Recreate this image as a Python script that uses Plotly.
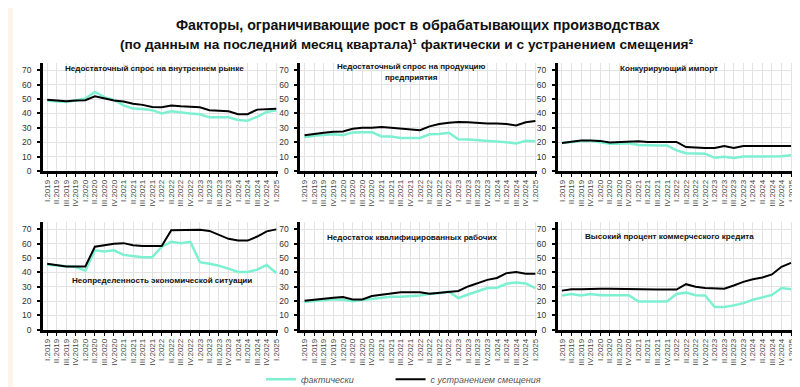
import plotly.graph_objects as go

W, H = 800, 387

quarters = ["I.2019", "II.2019", "III.2019", "IV.2019",
            "I.2020", "II.2020", "III.2020", "IV.2020",
            "I.2021", "II.2021", "III.2021", "IV.2021",
            "I.2022", "II.2022", "III.2022", "IV.2022",
            "I.2023", "II.2023", "III.2023", "IV.2023",
            "I.2024", "II.2024", "III.2024", "IV.2024",
            "I.2025"]

panel_titles = [
    "Недостаточный спрос на внутреннем рынке",
    "Недостаточный спрос на продукцию<br>предприятия",
    "Конкурирующий импорт",
    "Неопределенность экономической ситуации",
    "Недостаток квалифицированных рабочих",
    "Высокий процент коммерческого кредита",
]

# фактически
actual_domestic = [48.9, 48.4, 48.0, 49.0, 50.5, 55.0, 51.4, 49.5, 45.7, 43.4, 43.2, 42.3, 40.0,
                   41.6, 40.7, 40.0, 39.5, 37.3, 37.3, 37.3, 35.5, 35.0, 37.7, 41.1, 42.3]
actual_products = [23.4, 24.5, 25.0, 25.5, 24.8, 26.8, 27.0, 27.0, 24.0, 23.9, 23.0, 23.0, 23.0,
                   25.5, 25.7, 26.6, 22.0, 21.8, 21.4, 21.0, 20.5, 20.0, 19.1, 21.0, 20.7]
actual_import = [19.5, 20.2, 20.9, 20.9, 19.8, 18.9, 18.9, 19.3, 18.0, 17.7, 17.7, 17.7, 14.3,
                 12.3, 12.0, 12.0, 9.1, 9.8, 8.9, 10.0, 10.0, 10.0, 10.0, 10.2, 10.9]
actual_uncertainty = [45.3, 44.9, 44.2, 43.7, 41.2, 55.4, 54.5, 55.4, 52.2, 51.3, 50.6, 50.6, 57.9,
                      61.3, 60.4, 61.3, 47.1, 46.0, 44.6, 42.6, 40.3, 40.3, 41.9, 45.1, 39.6]
actual_workers = [19.4, 20.1, 20.8, 21.2, 21.0, 19.9, 20.8, 21.7, 22.1, 23.0, 23.0, 23.3, 23.9,
                  25.1, 25.5, 26.6, 22.1, 24.6, 27.1, 29.1, 29.3, 32.1, 33.0, 32.3, 29.1]
actual_credit = [23.9, 25.0, 23.9, 25.0, 24.1, 24.1, 24.1, 24.1, 19.8, 19.8, 19.8, 19.8, 25.0,
                 25.9, 24.1, 23.9, 15.9, 15.9, 17.0, 18.6, 20.9, 22.5, 24.3, 29.1, 28.2]

# с устранением смещения
adjusted_domestic = [49.5, 49.0, 48.6, 49.0, 49.3, 52.0, 50.5, 49.0, 48.4, 46.8, 46.0, 44.5, 44.3,
                     45.5, 45.0, 44.8, 44.3, 42.3, 42.0, 41.6, 39.5, 39.5, 42.7, 43.0, 43.3]
adjusted_products = [24.8, 25.9, 26.6, 27.3, 27.5, 29.3, 30.0, 30.0, 30.5, 30.0, 29.3, 28.9, 28.4,
                     31.0, 32.7, 33.6, 34.1, 33.9, 33.2, 33.0, 33.0, 32.7, 31.6, 33.9, 34.8]
adjusted_import = [19.5, 20.5, 21.1, 21.1, 20.9, 19.8, 20.0, 20.5, 20.7, 20.2, 20.2, 20.2, 20.2,
                   16.6, 16.1, 15.9, 15.9, 17.3, 15.9, 17.3, 17.3, 17.3, 17.3, 17.3, 17.3]
adjusted_uncertainty = [46.0, 44.9, 44.2, 44.2, 44.2, 57.9, 59.0, 60.0, 60.4, 59.0, 58.4, 58.4, 58.4,
                        69.4, 69.4, 69.6, 69.8, 68.9, 65.9, 63.4, 62.2, 62.2, 65.0, 68.6, 70.0]
adjusted_workers = [20.3, 21.2, 21.7, 22.3, 22.8, 21.2, 21.2, 23.5, 24.4, 25.3, 26.2, 26.2, 26.2,
                    25.1, 25.7, 26.6, 27.1, 30.2, 32.7, 34.8, 36.1, 39.5, 40.2, 39.0, 39.0]
adjusted_credit = [27.3, 28.2, 28.2, 28.6, 28.6, 28.6, 28.4, 28.2, 28.0, 28.0, 28.0, 28.0, 28.0,
                   31.8, 30.0, 29.1, 28.6, 28.6, 30.9, 33.4, 35.2, 36.4, 38.6, 43.9, 46.6]

actual_series = [actual_domestic, actual_products, actual_import,
                 actual_uncertainty, actual_workers, actual_credit]
adjusted_series = [adjusted_domestic, adjusted_products, adjusted_import,
                   adjusted_uncertainty, adjusted_workers, adjusted_credit]

y_ticks = [0, 10, 20, 30, 40, 50, 60, 70]

GREEN = "#7df0d2"
BLACK = "#000000"
FONT = "Liberation Sans, Arial, sans-serif"

# pixel layout of panels
col_px = [(35, 271.2), (293.3, 531.3), (551.7, 787.9)]
row_px = [(56, 165), (217, 326)]

def px_x(v):
    return v / W

def px_y(v):
    return 1 - v / H

fig = go.Figure()
layout = dict()

for i in range(6):
    r, c = divmod(i, 3)
    n = i + 1
    xa = "x" if n == 1 else f"x{n}"
    ya = "y" if n == 1 else f"y{n}"
    fig.add_trace(go.Scatter(
        x=quarters, y=actual_series[i], mode="lines", xaxis=xa, yaxis=ya,
        line=dict(color=GREEN, width=2.5), name="<i>фактически</i>",
        showlegend=(i == 0), legendgroup="a", legend="legend"))
    fig.add_trace(go.Scatter(
        x=quarters, y=adjusted_series[i], mode="lines", xaxis=xa, yaxis=ya,
        line=dict(color=BLACK, width=2), name="<i>с устранением смещения</i>",
        showlegend=(i == 0), legendgroup="b", legend="legend2"))
    x0, x1 = col_px[c]
    yt, yb = row_px[r]
    layout["xaxis" if n == 1 else f"xaxis{n}"] = dict(
        domain=[px_x(x0), px_x(x1)], anchor=ya, type="category",
        categoryorder="array", categoryarray=quarters,
        range=[-0.45, 24.2], tickangle=-90,
        tickmode="linear", tick0=0, dtick=1,
        tickfont=dict(size=8, color="#444444", family=FONT),
        showgrid=True, gridcolor="#e3e3e3", gridwidth=1,
        showline=True, linecolor="black", linewidth=2.5,
        ticks="outside", ticklen=3, tickcolor="black", tickwidth=1,
        zeroline=False, fixedrange=True)
    layout["yaxis" if n == 1 else f"yaxis{n}"] = dict(
        domain=[px_y(yb), px_y(yt)], anchor=xa, range=[0, 75],
        tickvals=y_ticks, tickfont=dict(size=8.5, color="#333333", family=FONT),
        showgrid=True, gridcolor="#e3e3e3", gridwidth=1,
        showline=True, linecolor="black", linewidth=2.5,
        ticks="outside", ticklen=3, tickcolor="black", tickwidth=2,
        ticklabelstandoff=4, zeroline=False, fixedrange=True)

annotations = []
title_pos = [(147, 61), (405, 65), (663, 61), (155, 276), (406, 232), (664, 231)]
for i, (tx, ty) in enumerate(title_pos):
    annotations.append(dict(
        text="<b>" + panel_titles[i] + "</b>", x=px_x(tx), y=px_y(ty),
        xref="paper", yref="paper", xanchor="center", yanchor="middle",
        showarrow=False, font=dict(size=8.1, color="#111111", family=FONT),
        bgcolor="rgba(255,255,255,0)"))

main_title_1 = "Факторы, ограничивающие рост в обрабатывающих производствах"
main_title_2 = "(по данным на последний месяц квартала)¹ фактически и с устранением смещения²"
TITLE_FONT = "Liberation Sans Narrow, Arial Narrow, sans-serif"
annotations.append(dict(text="<b>" + main_title_1 + "</b>", x=px_x(412), y=px_y(17),
                        xref="paper", yref="paper", xanchor="center", yanchor="middle",
                        showarrow=False, font=dict(size=14.2, color="#111111", family=TITLE_FONT)))
annotations.append(dict(text="<b>" + main_title_2 + "</b>", x=px_x(401), y=px_y(37),
                        xref="paper", yref="paper", xanchor="center", yanchor="middle",
                        showarrow=False, font=dict(size=13.7, color="#111111", family=TITLE_FONT)))

legend_common = dict(orientation="h", yanchor="middle", xanchor="left",
                     font=dict(size=9, color="#555555", family=FONT),
                     bgcolor="rgba(0,0,0,0)", itemwidth=30)

layout.update(dict(
    width=W, height=H,
    margin=dict(l=0, r=0, t=0, b=0),
    paper_bgcolor="white", plot_bgcolor="white",
    showlegend=True,
    legend=dict(x=px_x(254), y=px_y(376), **legend_common),
    legend2=dict(x=px_x(384), y=px_y(376), **legend_common),
    annotations=annotations,
    shapes=[dict(type="rect", xref="paper", yref="paper", x0=0, x1=px_x(5), y0=0, y1=1,
                 fillcolor="#fdf4ec", line=dict(width=0), layer="below")],
))
fig.update_layout(**layout)
fig.write_html("out.html")
